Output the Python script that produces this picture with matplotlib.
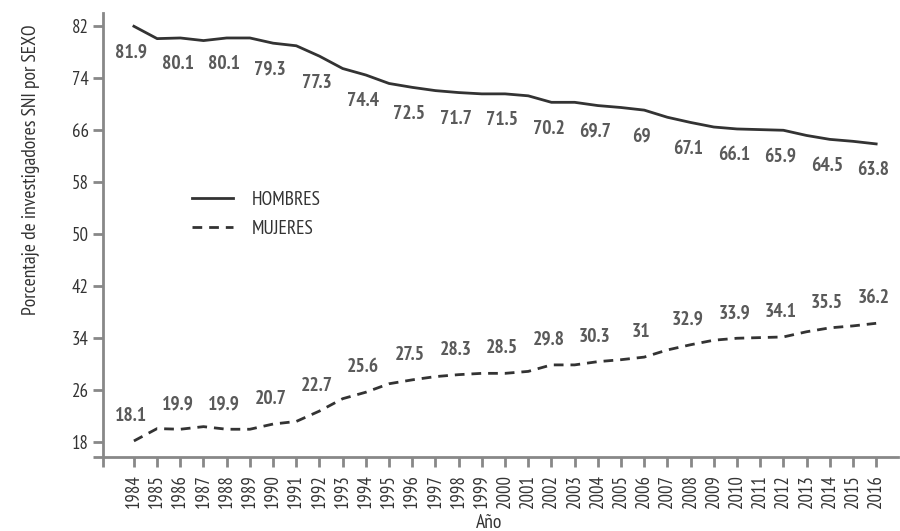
import matplotlib.pyplot as plt
from matplotlib.lines import Line2D

years = list(range(1984, 2017))
hombres = [81.9, 80.0, 80.1, 79.7, 80.1, 80.1, 79.3, 78.9, 77.3, 75.4, 74.4, 73.1,
           72.5, 72.0, 71.7, 71.5, 71.5, 71.2, 70.2, 70.2, 69.7, 69.4, 69.0, 67.9,
           67.1, 66.4, 66.1, 66.0, 65.9, 65.1, 64.5, 64.2, 63.8]
mujeres = [round(100 - h, 1) for h in hombres]
label_years = list(range(1984, 2017, 2))
yticks = list(range(18, 83, 8))

plt.rcParams['font.family'] = ['PT Sans Narrow', 'DejaVu Sans']

fig = plt.figure(figsize=(9, 5.31), dpi=100)
ax = fig.add_axes([0.114, 0.139, 0.884, 0.836])

ax.plot(years, hombres, color='#333333', lw=2)
ax.plot(years, mujeres, color='#333333', lw=2, ls=(0, (3.5, 2.5)))

for y, h, m in zip(years, hombres, mujeres):
    if y not in label_years:
        continue
    ax.annotate('%g' % h, (y, h), xytext=(-2, -19), textcoords='offset points',
                ha='center', va='center', fontsize=14, fontweight='bold', color='#5a5a5a')
    ax.annotate('%g' % m, (y, m), xytext=(-2, 18), textcoords='offset points',
                ha='center', va='center', fontsize=14, fontweight='bold', color='#5a5a5a')

ax.set_xlim(1982.65, 2016.95)
ax.set_ylim(15.6, 83.9)
ax.set_xticks(years)
ax.set_xticklabels([str(y) for y in years], rotation=90)
ax.set_yticks(yticks)
ax.set_xticks([1982.65], minor=True)
ax.set_yticks([15.6], minor=True)

for s in ['top', 'right']:
    ax.spines[s].set_visible(False)
for s in ['left', 'bottom']:
    ax.spines[s].set_color('#888888')
    ax.spines[s].set_linewidth(2)
ax.tick_params(axis='both', which='both', color='#888888', width=2, length=7,
               labelsize=13.5, labelcolor='#333333')
ax.tick_params(axis='x', pad=5)
ax.tick_params(axis='y', pad=3)

handles = [Line2D([], [], color='#333333', lw=2),
           Line2D([], [], color='#333333', lw=2, ls=(0, (3.5, 2.5)))]
leg = ax.legend(handles, ['HOMBRES', 'MUJERES'], loc='upper left',
                bbox_to_anchor=(0.09, 0.64), frameon=False, fontsize=14,
                handlelength=2.1, handletextpad=1.0, labelspacing=0.6)
for t in leg.get_texts():
    t.set_color('#333333')

fig.text(0.034, 1 - 170 / 531, 'Porcentaje de investigadores SNI por SEXO', rotation=90,
         ha='center', va='center', fontsize=14, color='#333333')
fig.text(489 / 900, 1 - 523 / 531, 'Año', ha='center', va='center',
         fontsize=14, color='#333333')

fig.savefig('out.png', dpi=100)
